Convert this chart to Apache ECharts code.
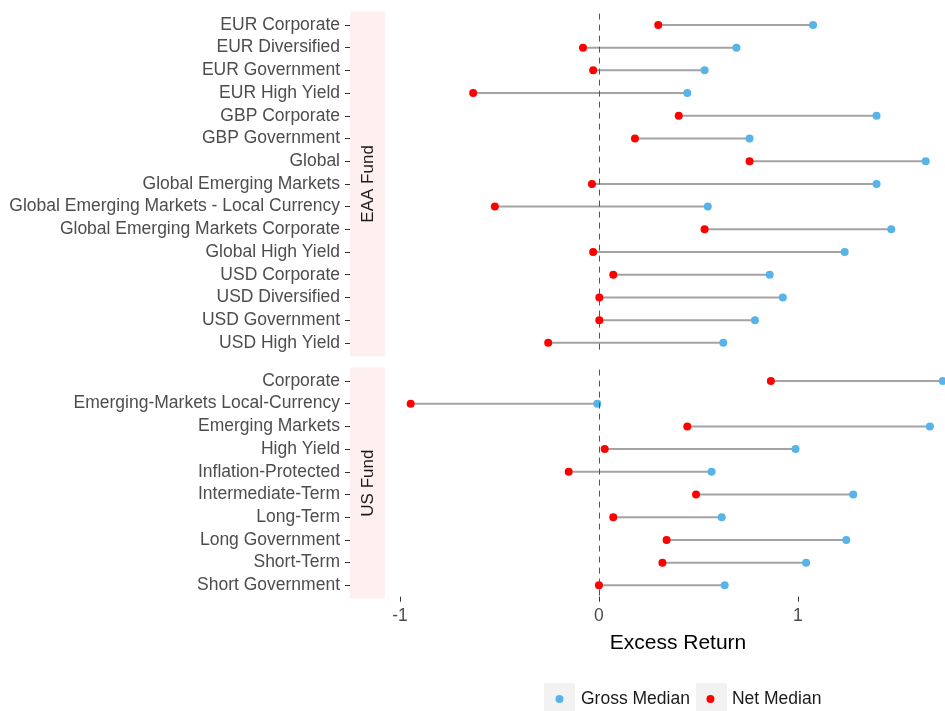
<!DOCTYPE html>
<html>
<head>
<meta charset="utf-8">
<script src="https://cdn.jsdelivr.net/npm/echarts@6/dist/echarts.min.js"></script>
<style>
html,body{margin:0;padding:0;background:#fff;}
#chart{width:945px;height:711px;}
</style>
</head>
<body>
<div id="chart"></div>
<script>
// ---- data ----
const eaaCategories = ["EUR Corporate","EUR Diversified","EUR Government","EUR High Yield","GBP Corporate","GBP Government","Global","Global Emerging Markets","Global Emerging Markets - Local Currency","Global Emerging Markets Corporate","Global High Yield","USD Corporate","USD Diversified","USD Government","USD High Yield"];
const eaaGross = [1.076,0.691,0.531,0.444,1.395,0.757,1.642,1.395,0.547,1.469,1.235,0.858,0.924,0.784,0.625];
const eaaNet   = [0.298,-0.080,-0.029,-0.632,0.401,0.181,0.757,-0.035,-0.523,0.531,-0.029,0.072,0.002,0.002,-0.255];

const usCategories = ["Corporate","Emerging-Markets Local-Currency","Emerging Markets","High Yield","Inflation-Protected","Intermediate-Term","Long-Term","Long Government","Short-Term","Short Government"];
const usGross = [1.728,-0.008,1.663,0.988,0.566,1.278,0.617,1.243,1.041,0.632];
const usNet   = [0.864,-0.946,0.444,0.029,-0.152,0.488,0.072,0.340,0.319,0.000];

const xTicks = [-1, 0, 1];
const facetNames = ["EAA Fund", "US Fund"];
const seriesNames = ["Gross Median", "Net Median"];

// ---- styles ----
const FONT = "Liberation Sans, Arial, sans-serif";
const BLUE = "#56B4E9", RED = "#FF0000";
const XMIN = -1.075, XMAX = 1.739;

const facets = [
  {cats: eaaCategories, gross: eaaGross, net: eaaNet, top: 13.6, height: 340.6},
  {cats: usCategories, gross: usGross, net: usNet, top: 369.6, height: 227.1}
];

const grids = [], xAxes = [], yAxes = [], series = [];
facets.forEach((f, i) => {
  grids.push({left: 385, right: 0, top: f.top, height: f.height, containLabel: false});
  const isLast = i === facets.length - 1;
  xAxes.push({
    type: 'value', gridIndex: i, min: XMIN, max: XMAX,
    splitLine: {show: false},
    axisLine: {show: false, onZero: false},
    axisTick: {show: isLast, length: 5, lineStyle: {color: '#333'}, customValues: xTicks},
    axisLabel: {show: isLast, customValues: xTicks, fontFamily: FONT, fontSize: 17.5, color: '#4D4D4D', margin: 10},
    name: isLast ? 'Excess Return' : '',
    nameLocation: 'middle', nameGap: 36,
    nameTextStyle: {fontFamily: FONT, fontSize: 21, color: '#000', padding: [0, 0, 0, 26]}
  });
  yAxes.push({
    type: 'category', gridIndex: i, data: f.cats, inverse: true,
    offset: 35,
    axisLine: {show: false, onZero: false},
    axisTick: {show: true, alignWithLabel: true, interval: 0, length: 5, lineStyle: {color: '#333'}},
    axisLabel: {interval: 0, fontFamily: FONT, fontSize: 17.5, color: '#4D4D4D', margin: 10},
    splitLine: {show: false}
  });
  const segData = f.cats.map((c, k) => [f.net[k], c, f.gross[k]]);
  series.push({
    type: 'custom', xAxisIndex: i, yAxisIndex: i, silent: true,
    data: segData,
    encode: {x: 0, y: 1},
    renderItem: function (params, api) {
      const yv = api.value(1);
      const p1 = api.coord([api.value(0), yv]);
      const p2 = api.coord([api.value(2), yv]);
      return {type: 'line', shape: {x1: p1[0], y1: p1[1], x2: p2[0], y2: p2[1]},
              style: {stroke: '#A3A3A3', lineWidth: 2}};
    },
    z: 1
  });
  series.push({
    name: seriesNames[0], type: 'scatter', xAxisIndex: i, yAxisIndex: i,
    data: f.cats.map((c, k) => [f.gross[k], c]),
    symbol: 'circle', symbolSize: 8, itemStyle: {color: BLUE, opacity: 1}, z: 3,
    markLine: {
      silent: true, symbol: 'none', label: {show: false},
      lineStyle: {color: '#555', type: [6, 5], width: 1},
      data: [{xAxis: 0}]
    }
  });
  series.push({
    name: seriesNames[1], type: 'scatter', xAxisIndex: i, yAxisIndex: i,
    data: f.cats.map((c, k) => [f.net[k], c]),
    symbol: 'circle', symbolSize: 8, itemStyle: {color: RED, opacity: 1}, z: 4
  });
});

const graphics = [];
facets.forEach((f, i) => {
  graphics.push({type: 'rect', left: 350, top: f.top - 2, z: -1,
    shape: {width: 35, height: f.height + 4}, style: {fill: '#FFF0F0'}});
  graphics.push({type: 'text', x: 368, y: f.top + f.height / 2, rotation: Math.PI / 2,
    style: {text: facetNames[i], font: '17px ' + FONT, fill: '#1A1A1A', align: 'center', verticalAlign: 'middle'}});
});
// legend key backgrounds
graphics.push({type: 'rect', left: 544, top: 683, z: -1, shape: {width: 31, height: 34}, style: {fill: '#F2F2F2'}});
graphics.push({type: 'rect', left: 696, top: 683, z: -1, shape: {width: 31, height: 34}, style: {fill: '#F2F2F2'}});

const chart = echarts.init(document.getElementById('chart'), null, {renderer: 'canvas'});
chart.setOption({
  animation: false,
  backgroundColor: '#fff',
  grid: grids, xAxis: xAxes, yAxis: yAxes, series: series,
  graphic: graphics,
  legend: {
    left: 555.5, top: 690, padding: 0, itemWidth: 31, itemHeight: 8, itemGap: 16.5,
    data: [{name: seriesNames[0], icon: 'circle'}, {name: seriesNames[1], icon: 'circle'}],
    textStyle: {fontFamily: FONT, fontSize: 17.5, color: '#1A1A1A', padding: [0, 0, 0, 1]}
  }
});
</script>
</body>
</html>
